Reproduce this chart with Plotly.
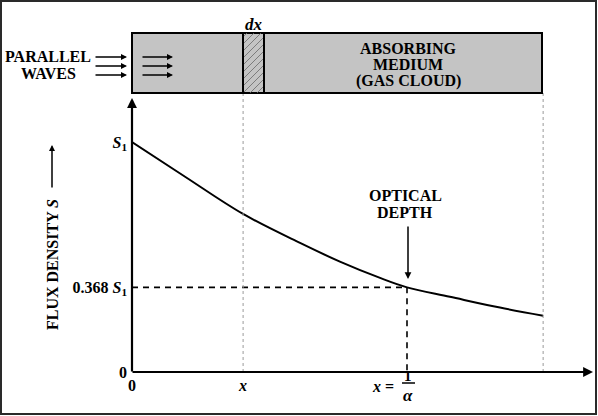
import plotly.graph_objects as go

# ---- data (x in units of 1/alpha, S in units of S1) ----
curve_x = [0.0, 0.193, 0.404, 0.611, 0.756, 0.902, 1.0, 1.156, 1.338, 1.495]
curve_s = [1.0, 0.849, 0.687, 0.561, 0.480, 0.409, 0.368, 0.327, 0.280, 0.245]
optical_depth_x = 1.0
optical_depth_s = 0.368
slice_x = 0.404          # position "x" of the slab dx
medium_end_x = 1.495     # far edge of the gas cloud
y_tickvals = [0, 0.368, 1]
y_ticktext = ["<b>0</b>", "<b>0.368 <i>S</i><sub>1</sub></b>", "<b><i>S</i><sub>1</sub></b>"]
x_tickvals = [0, 0.404]
x_ticktext = ["<b>0</b>", "<b><i>x</i></b>"]

# ---- layout geometry (pixels) ----
W, H = 598, 416
L, R, T, B = 132, 5, 100, 44
PW, PH = W - L - R, H - T - B
XSCALE, YSCALE = 275.0, 230.0   # px per unit


def px(xp):
    return (xp - L) / PW


def py(yp):
    return (H - B - yp) / PH


FONT = "Liberation Serif"
FS = 16
fig = go.Figure()

fig.add_trace(go.Scatter(x=curve_x, y=curve_s, mode="lines", line=dict(color="black", width=2),
                         line_shape="spline", hoverinfo="skip", showlegend=False))
fig.add_trace(go.Scatter(x=[0, optical_depth_x, optical_depth_x], y=[optical_depth_s, optical_depth_s, 0],
                         mode="lines", line=dict(color="black", width=1.6, dash="6px,5px"),
                         hoverinfo="skip", showlegend=False))

shapes = []
# outer frame
shapes.append(dict(type="rect", xref="paper", yref="paper", x0=px(1), y0=py(1), x1=px(596), y1=py(414),
                   line=dict(color="#2a2a2a", width=2)))
# gray dotted guide lines
for gx in [slice_x, medium_end_x]:
    shapes.append(dict(type="line", xref="x", yref="paper", x0=gx, x1=gx, y0=0, y1=py(93),
                       line=dict(color="#9a9a9a", width=1, dash="dot")))
# medium box
shapes.append(dict(type="rect", xref="paper", yref="paper", x0=px(132), y0=py(93), x1=px(542), y1=py(33),
                   fillcolor="#c4c4c4", line=dict(color="black", width=2)))
# hatch in dx strip
sx0, sx1, sy0, sy1 = 243, 264, 93, 33
sw, sh = sx1 - sx0, sy0 - sy1
for k in range(-sw, sh, 7):
    u0, u1 = max(0, -k), min(sw, sh - k)
    if u0 < u1:
        shapes.append(dict(type="line", xref="paper", yref="paper",
                           x0=px(sx0 + u0), y0=py(sy0 - (u0 + k)),
                           x1=px(sx0 + u1), y1=py(sy0 - (u1 + k)),
                           line=dict(color="#6a6a6a", width=0.8)))
for sx in [sx0, sx1]:
    shapes.append(dict(type="line", xref="paper", yref="paper", x0=px(sx), x1=px(sx), y0=py(93), y1=py(33),
                       line=dict(color="black", width=2)))
# fraction bar for 1/alpha
shapes.append(dict(type="line", xref="paper", yref="paper", x0=px(402), x1=px(415), y0=py(383), y1=py(383),
                   line=dict(color="black", width=1.5)))

ann = []


def arrow(tipx, tipy, tailx, taily, w=1.5, head=2, size=1.0):
    ann.append(dict(xref="paper", yref="paper", x=px(tipx), y=py(tipy), ax=tailx - tipx, ay=taily - tipy,
                    text="", showarrow=True, arrowhead=head, arrowsize=size, arrowwidth=w,
                    arrowcolor="black", standoff=0, startstandoff=0))


def text(t, x, y, size=FS, xanchor="center", angle=0):
    ann.append(dict(xref="paper", yref="paper", x=px(x), y=py(y), text=t, showarrow=False,
                    xanchor=xanchor, yanchor="middle", textangle=angle,
                    font=dict(family=FONT, size=size, color="black", weight="bold")))


# axes with arrowheads
arrow(593, 372, 131, 372, w=2.2, head=2, size=0.9)
arrow(132, 98, 132, 373, w=2.2, head=2, size=0.9)
# parallel wave arrows
for yy in [57, 66, 75]:
    arrow(127, yy, 94, yy, w=1.5, head=2, size=0.8)
    arrow(173, yy, 141, yy, w=1.5, head=2, size=0.8)
# optical depth arrow
arrow(408, 279, 408, 225, w=1.5, head=2, size=0.9)
# y title arrow
arrow(52, 145, 52, 189, w=1.5, head=2, size=0.8)

text("PARALLEL", 48, 57)
text("WAVES", 48, 74)
text("<i>dx</i>", 254, 24, size=17)
text("ABSORBING", 408, 48)
text("MEDIUM", 408, 64.5)
text("(GAS CLOUD)", 408, 81)
text("OPTICAL", 405, 195)
text("DEPTH", 405, 212)
text("FLUX DENSITY <i>S</i>", 52, 265, angle=-90)
text("<i>x</i> =", 396, 386, xanchor="right")
text("1", 408, 376, size=15)
text("<i>α</i>", 408, 395, size=17)

fig.update_layout(
    width=W, height=H, margin=dict(l=L, r=R, t=T, b=B),
    paper_bgcolor="white", plot_bgcolor="white",
    shapes=shapes, annotations=ann, showlegend=False,
    xaxis=dict(range=[0, PW / XSCALE], showgrid=False, zeroline=False, showline=False,
               tickvals=x_tickvals, ticktext=x_ticktext, ticks="", ticklabelstandoff=2,
               tickfont=dict(family=FONT, size=FS, color="black")),
    yaxis=dict(range=[0, PH / YSCALE], showgrid=False, zeroline=False, showline=False,
               tickvals=y_tickvals, ticktext=y_ticktext, ticks="", ticklabelstandoff=4,
               tickfont=dict(family=FONT, size=FS, color="black")),
)

fig.write_html("out.html", config={"displayModeBar": False},
               post_script="document.body.style.margin='0px';")
